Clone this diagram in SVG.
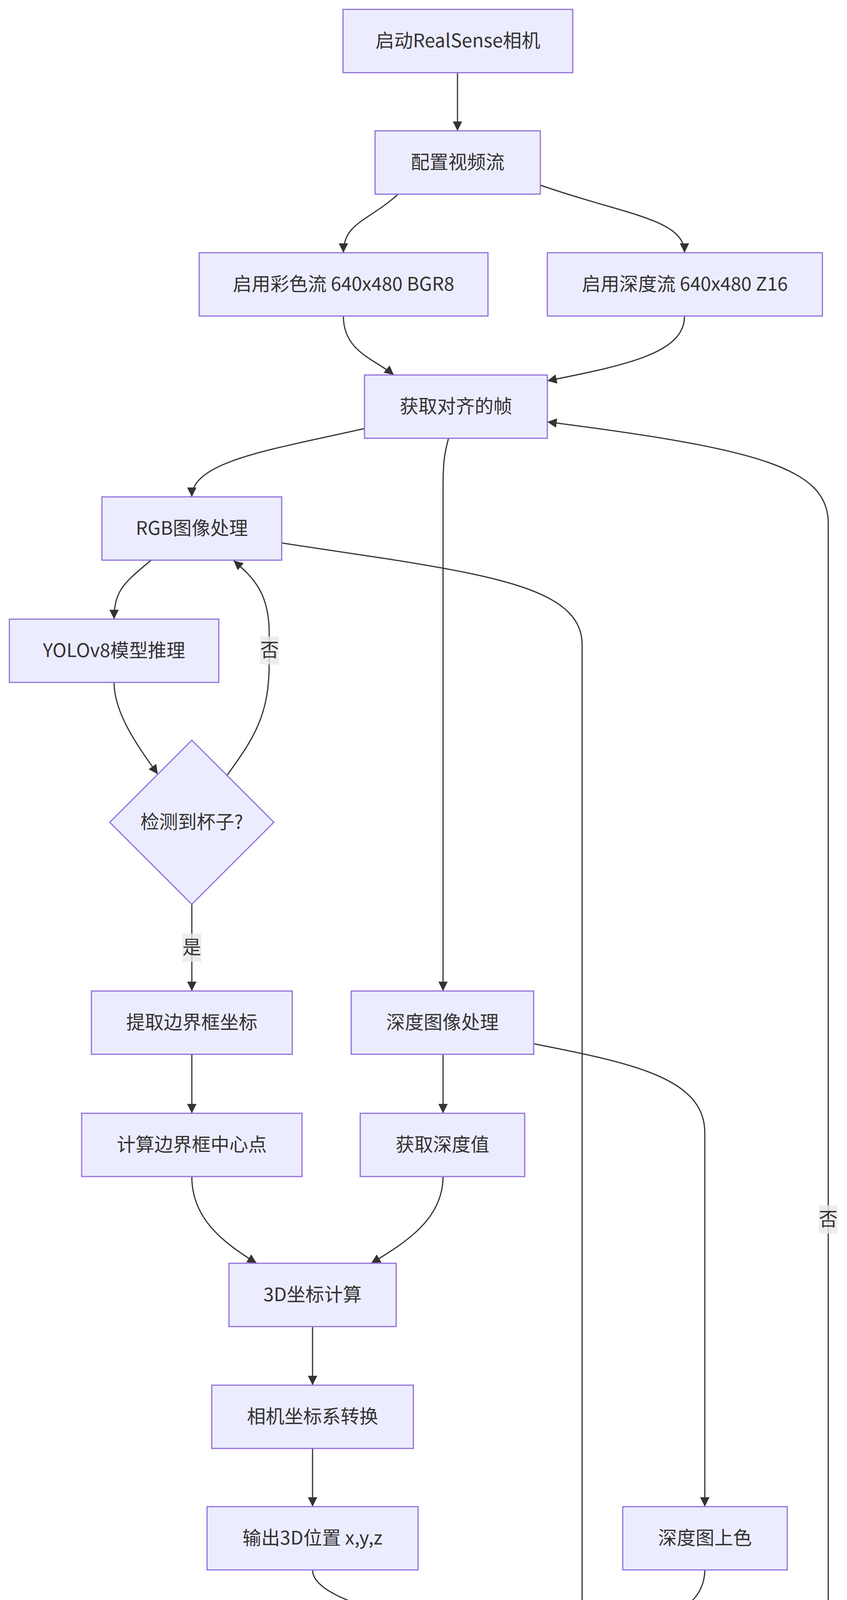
<svg xmlns="http://www.w3.org/2000/svg" width="2168" height="5567" viewBox="0 0 2168 5567">
<style>
.node rect,.node polygon{fill:#ECECFF;stroke:#9370DB;stroke-width:3}
.node text,.label text{font-family:"Noto Sans CJK SC","Noto Sans",sans-serif;font-size:48px;fill:#333333;text-anchor:middle}
.edge{fill:none;stroke:#333333;stroke-width:3;marker-end:url(#arrow)}
.label rect{fill:#e8e8e8;fill-opacity:0.8}
</style>
<defs>
<marker id="arrow" viewBox="0 0 10 10" refX="10" refY="5" markerUnits="userSpaceOnUse" markerWidth="24" markerHeight="24" orient="auto">
<path d="M0,0 L10,5 L0,10 z" fill="#333333"/>
</marker>
</defs>
<rect width="2168" height="5567" fill="#ffffff"/>
<g id="edges">
<path class="edge" d="M1171,186 L1171,335"/>
<path class="edge" d="M1019,497 C945,565 879,570 879,647"/>
<path class="edge" d="M1383,474 C1600,550 1752,560 1752,647"/>
<path class="edge" d="M879,810 C879,900 960,920 1008,960"/>
<path class="edge" d="M1752,810 C1752,905 1600,935 1401,975"/>
<path class="edge" d="M933,1097 C700,1150 491,1180 491,1272"/>
<path class="edge" d="M1148,1122 C1138,1160 1134,1180 1134,1250 L1134,2537"/>
<path class="edge" d="M387,1434 C320,1490 292,1510 292,1585"/>
<path class="edge" d="M292,1747 C292,1830 360,1920 404,1982"/>
<path class="edge" d="M581,1985 C650,1890 689,1830 689,1700 L689,1620 C689,1520 650,1480 598,1435"/>
<path class="edge" d="M491,2315 L491,2537"/>
<path class="edge" d="M721,1390 L1000,1432 C1300,1480 1490,1520 1490,1650 L1490,4170"/>
<path class="edge" d="M1134,2699 L1134,2850"/>
<path class="edge" d="M491,2699 L491,2850"/>
<path class="edge" d="M1366,2672 C1620,2722 1804,2760 1804,2900 L1804,3857"/>
<path class="edge" d="M491,3012 C491,3120 570,3180 657,3234"/>
<path class="edge" d="M1134,3012 C1134,3120 1040,3180 950,3234"/>
<path class="edge" d="M800,3396 L800,3546"/>
<path class="edge" d="M800,3708 L800,3857"/>
<path class="edge" d="M800,4019 C800,4090 1000,4140 1280,4198"/>
<path class="edge" d="M1804,4019 C1804,4100 1730,4130 1666,4170"/>
<path class="edge" d="M1490,4332 L1490,4481"/>
<path class="edge" d="M1490,4643 C1490,4740 1600,4810 1704,4893"/>
<path class="edge" d="M1805,5159 L1805,5380"/>
<path class="edge" d="M1908,4893 C2030,4790 2120,4720 2120,4550 L2120,1340 C2120,1200 1950,1150 1401,1080"/>
</g>
<g id="edge-labels">
<g class="label" id="label-no1"><rect x="666" y="1629" width="48" height="72"/><text x="690" y="1681">否</text></g>
<g class="label" id="label-yes1"><rect x="467" y="2390" width="48" height="72"/><text x="491" y="2442">是</text></g>
<g class="label" id="label-no2"><rect x="2096" y="3086" width="48" height="72"/><text x="2120" y="3138">否</text></g>
<g class="label" id="label-yes2"><rect x="1781" y="5234" width="48" height="72"/><text x="1805" y="5286">是</text></g>
</g>
<g id="node-A" class="node"><rect x="878" y="24" width="588" height="162"/><text x="1172" y="121">启动RealSense相机</text></g>
<g id="node-B" class="node"><rect x="960" y="335" width="423" height="162"/><text x="1171.5" y="432">配置视频流</text></g>
<g id="node-C" class="node"><rect x="510" y="647" width="739" height="162"/><text x="879.5" y="744">启用彩色流 640x480 BGR8</text></g>
<g id="node-D" class="node"><rect x="1401" y="647" width="704" height="162"/><text x="1753" y="744">启用深度流 640x480 Z16</text></g>
<g id="node-E" class="node"><rect x="933" y="960" width="468" height="162"/><text x="1167" y="1057">获取对齐的帧</text></g>
<g id="node-F" class="node"><rect x="261" y="1272" width="460" height="162"/><text x="491" y="1369">RGB图像处理</text></g>
<g id="node-G" class="node"><rect x="24" y="1585" width="536" height="162"/><text x="292" y="1682">YOLOv8模型推理</text></g>
<g id="node-H" class="node"><polygon points="491,1895 701,2105 491,2315 281,2105"/><text x="491" y="2121">检测到杯子?</text></g>
<g id="node-I" class="node"><rect x="234" y="2537" width="514" height="162"/><text x="491" y="2634">提取边界框坐标</text></g>
<g id="node-J" class="node"><rect x="899" y="2537" width="467" height="162"/><text x="1132.5" y="2634">深度图像处理</text></g>
<g id="node-K" class="node"><rect x="209" y="2850" width="564" height="162"/><text x="491" y="2947">计算边界框中心点</text></g>
<g id="node-L" class="node"><rect x="922" y="2850" width="421" height="162"/><text x="1132.5" y="2947">获取深度值</text></g>
<g id="node-M" class="node"><rect x="586" y="3234" width="428" height="162"/><text x="800" y="3331">3D坐标计算</text></g>
<g id="node-N" class="node"><rect x="542" y="3546" width="516" height="162"/><text x="800" y="3643">相机坐标系转换</text></g>
<g id="node-O" class="node"><rect x="530" y="3857" width="540" height="162"/><text x="800" y="3954">输出3D位置 x,y,z</text></g>
<g id="node-P" class="node"><rect x="1594" y="3857" width="421" height="162"/><text x="1804.5" y="3954">深度图上色</text></g>
<g id="node-Q" class="node"><rect x="1280" y="4170" width="420" height="162"/><text x="1490" y="4267">可视化显示</text></g>
<g id="node-R" class="node"><rect x="1255" y="4481" width="470" height="162"/><text x="1490" y="4578">实时显示结果</text></g>
<g id="node-S" class="node"><polygon points="1805,4793 1988,4976 1805,5159 1622,4976"/><text x="1805" y="4992">按'q'退出?</text></g>
<g id="node-T" class="node"><rect x="1619" y="5380" width="371" height="162"/><text x="1804.5" y="5477">结束程序</text></g>
</svg>
